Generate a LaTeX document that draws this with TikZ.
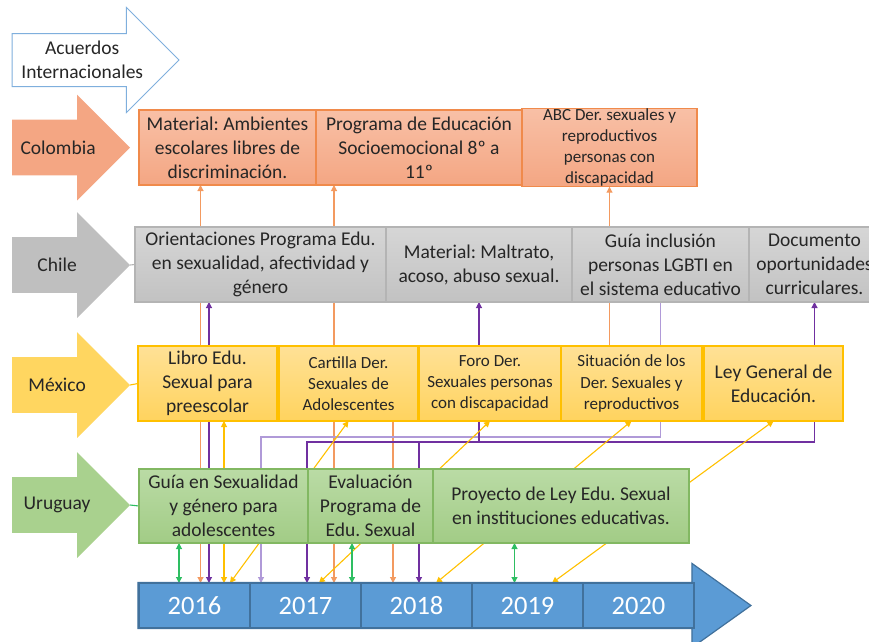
\documentclass[tikz,border=0pt]{standalone}
\usepackage{fontspec}
\setmainfont{Carlito}
\usetikzlibrary{arrows.meta,positioning,shapes.arrows}
\frenchspacing

\definecolor{txt}{HTML}{262626}
\definecolor{aculine}{HTML}{7FAFDD}
\definecolor{colarrow}{HTML}{F4A683}
\definecolor{colline}{HTML}{F08A4B}
\definecolor{coltop}{HTML}{F8C0A6}
\definecolor{colbot}{HTML}{F4A683}
\definecolor{chiarrow}{HTML}{BFBFBF}
\definecolor{chiline}{HTML}{B4B4B4}
\definecolor{chitop}{HTML}{D6D6D6}
\definecolor{chibot}{HTML}{C2C2C2}
\definecolor{mexarrow}{HTML}{FFD660}
\definecolor{mexline}{HTML}{FFC000}
\definecolor{mextop}{HTML}{FFE196}
\definecolor{mexbot}{HTML}{FFD35E}
\definecolor{uruarrow}{HTML}{A9D18E}
\definecolor{uruline}{HTML}{82B862}
\definecolor{urutop}{HTML}{BADBA5}
\definecolor{urubot}{HTML}{A2CC86}
\definecolor{yearfill}{HTML}{5B9BD5}
\definecolor{yearline}{HTML}{41719C}
\definecolor{ora}{HTML}{F39A60}
\definecolor{pur}{HTML}{7030A0}
\definecolor{lpur}{HTML}{B09AD8}
\definecolor{yel}{HTML}{FFC000}
\definecolor{grn}{HTML}{2EBE62}

\newcommand{\boxfont}{\fontsize{19.5}{24}\selectfont}
\newcommand{\boxsmallfont}{\fontsize{17}{21.3}\selectfont}
\newcommand{\yearfont}{\fontsize{26.5}{30}\selectfont}

\pgfdeclarelayer{background}
\pgfsetlayers{background,main}

\begin{document}
\begin{tikzpicture}[
    x = 1pt, y = -1pt, % image pixels, y going down
    > = {Triangle[length=6pt,width=6pt]}, % arrow head style
    semithick % line style
    ]

    \tikzset{
    box/.style = {rectangle, line width=1.2pt, inner sep=0pt, outer sep=0pt,
        minimum height=75pt, align=center, text=txt, font=\boxfont},
    colbox/.style = {box, draw=colline, top color=coltop, bottom color=colbot},
    chibox/.style = {box, draw=chiline, top color=chitop, bottom color=chibot},
    mexbox/.style = {box, draw=mexline, top color=mextop, bottom color=mexbot},
    urubox/.style = {box, draw=uruline, top color=urutop, bottom color=urubot, minimum height=74pt},
    yearbox/.style = {rectangle, draw=yearline, fill=yearfill, line width=1.2pt, outer sep=0pt,
        minimum width=111pt, minimum height=45pt, text=white, font=\yearfont},
    rowarrow/.style = {single arrow, anchor=tip, draw=none, inner xsep=0pt, inner ysep=27.5pt, outer sep=0pt,
        minimum height=118pt, single arrow head extend=25pt, single arrow tip angle=90},
    rowlabel/.style = {align=center, text=txt, font=\boxfont},
    link/.style = {line width=1.1pt}
    }

    \useasboundingbox (0,0) rectangle (869,641);
    \clip (0,0) rectangle (869,641);

    % row arrows
    \node[rowarrow, fill=white, draw=aculine, line width=1pt, inner ysep=26pt, minimum height=167pt,
        single arrow head extend=26pt, label={[rowlabel]center:Acuerdos\\Internacionales}] (acuerdos) at (179,60) {};
    \node[rowarrow, fill=colarrow, label={[rowlabel,xshift=1pt]center:Colombia}] (colombia) at (130,147.5) {};
    \node[rowarrow, fill=chiarrow, label={[rowlabel]center:Chile}] (chile) at (130,265) {};
    \node[rowarrow, fill=mexarrow, label={[rowlabel]center:México}] (mexico) at (130,385) {};
    \node[rowarrow, fill=uruarrow, label={[rowlabel]center:Uruguay}] (uruguay) at (130,505) {};

    % Colombia
    \node[colbox, minimum width=177pt] (c1) at (227.5,147.5) {Material: Ambientes\\escolares libres de\\discriminación.};
    \node[colbox, minimum width=206pt, right=0pt of c1] (c2) {Programa de Educación\\Socioemocional 8º a\\11º};
    \node[colbox, minimum width=175pt, font=\boxsmallfont, right=0pt of c2] (c3) {ABC Der. sexuales y\\reproductivos\\personas con\\discapacidad};

    % Chile
    \node[chibox, minimum width=251pt] (ch1) at (260.5,264.5) {Orientaciones Programa Edu.\\en sexualidad, afectividad y\\género};
    \node[chibox, minimum width=186pt, right=0pt of ch1] (ch2) {Material: Maltrato,\\acoso, abuso sexual.};
    \node[chibox, minimum width=177pt, right=0pt of ch2] (ch3) {Guía inclusión\\personas LGBTI en\\el sistema educativo};
    \node[chibox, minimum width=131pt, right=0pt of ch3] (ch4) {Documento\\oportunidades\\curriculares.};

    % México
    \node[mexbox, minimum width=139pt] (m1) at (207.5,383.5) {Libro Edu.\\Sexual para\\preescolar};
    \node[mexbox, minimum width=139pt, font=\boxsmallfont, right=2pt of m1] (m2) {Cartilla Der.\\Sexuales de\\Adolescentes};
    \node[mexbox, minimum width=142pt, font=\boxsmallfont, right=1pt of m2] (m3) {Foro Der.\\Sexuales personas\\con discapacidad};
    \node[mexbox, minimum width=141pt, font=\boxsmallfont, right=0pt of m3] (m4) {Situación de los\\Der. Sexuales y\\reproductivos};
    \node[mexbox, minimum width=139pt, right=2pt of m4] (m5) {Ley General de\\Educación.};

    % Uruguay
    \node[urubox, minimum width=169pt] (u1) at (223.5,506) {Guía en Sexualidad\\y género para\\adolescentes};
    \node[urubox, minimum width=125pt, right=0pt of u1] (u2) {Evaluación\\Programa de\\Edu. Sexual};
    \node[urubox, minimum width=256pt, right=0pt of u2] (u3) {Proyecto de Ley Edu. Sexual\\en instituciones educativas.};

    % time line
    \node[single arrow, anchor=tip, fill=yearfill, draw=yearline, line width=1.2pt, inner xsep=0pt, inner ysep=22.5pt,
        minimum height=613pt, single arrow head extend=19pt, single arrow tip angle=71] (timeline) at (752,605.5) {};
    \node[yearbox] (y16) at (194.5,605.5) {2016};
    \node[yearbox, right=0pt of y16] (y17) {2017};
    \node[yearbox, right=0pt of y17] (y18) {2018};
    \node[yearbox, right=0pt of y18] (y19) {2019};
    \node[yearbox, right=0pt of y19] (y20) {2020};

    \begin{pgfonlayer}{background}
    % orange: Colombia
    \draw[link, ora, <->] ([xshift=-27pt]c1.south) -- ([xshift=6pt]y16.north);
    \draw[link, ora, <->] ([xshift=-85pt]c2.south) -- ([xshift=28.5pt]y17.north);
    \draw[link, ora, <->] ([xshift=-23.5pt]y18.north) -- ++(0,-200) -| (c3.south);
    % purple: Chile
    \draw[link, pur, <->] ([xshift=-51.5pt]ch1.south) -- ([xshift=14.5pt]y16.north);
    \draw[link, lpur, <-] ([xshift=-44.5pt]y17.north) -- ++(0,-146) -| (ch3.south);
    \draw[link, pur, <->] ([xshift=1.5pt]y17.north) -- ++(0,-141) -| (ch4.south);
    \draw[link, pur, <->] ([xshift=2.5pt]y18.north) -- ++(0,-141) -| (ch2.south);
    % yellow: México
    \draw[link, yel, <->] ([xshift=16.5pt]m1.south) -- ([xshift=29.5pt]y16.north);
    \draw[link, yel, <->] (m2.south) -- ([xshift=35.5pt]y16.north);
    \draw[link, yel, <->] (m3.south) -- ([xshift=13.5pt]y17.north);
    \draw[link, yel, <->] (m4.south) -- ([xshift=19.5pt]y18.north);
    \draw[link, yel, <->] (m5.south) -- ([xshift=24.5pt]y19.north);
    % green: Uruguay
    \draw[link, grn, <->] ([xshift=-44.5pt]u1.south) -- ([xshift=-15.5pt]y16.north);
    \draw[link, grn, <->] ([xshift=-18.5pt]u2.south) -- ([xshift=46.5pt]y17.north);
    \draw[link, grn, <->] ([xshift=-46.5pt]u3.south) -- ([xshift=-13pt]y19.north);
    % row arrows to first box
    \draw[link, chiline] (chile.tip) -- (ch1.west);
    \draw[link, yel] (mexico.tip) -- (m1.west);
    \draw[link, grn] (uruguay.tip) -- (u1.west);
    \end{pgfonlayer}
\end{tikzpicture}
\end{document}
